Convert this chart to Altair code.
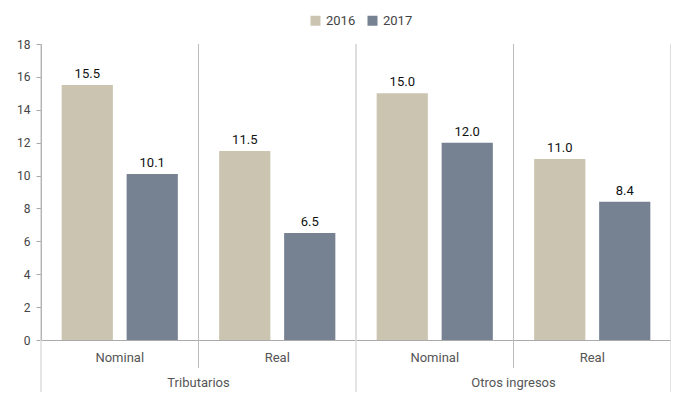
import altair as alt
import pandas as pd

grupos = ["Tributarios", "Tributarios", "Otros ingresos", "Otros ingresos"]
tipos = ["Nominal", "Real", "Nominal", "Real"]
anios = ["2016", "2017"]
v2016 = [15.5, 11.5, 15.0, 11.0]
v2017 = [10.1, 6.5, 12.0, 8.4]
y_ticks = [0, 2, 4, 6, 8, 10, 12, 14, 16, 18]

colores = ["#CBC4B0", "#768292"]
FONT = "Roboto"
W, H = 630, 296

cats = [f"{g}|{t}" for g, t in zip(grupos, tipos)]
rows = []
for c, g, t, a, b in zip(cats, grupos, tipos, v2016, v2017):
    rows.append({"cat": c, "grupo": g, "tipo": t, "anio": "2016", "valor": a, "lbl": f"{a:.1f}"})
    rows.append({"cat": c, "grupo": g, "tipo": t, "anio": "2017", "valor": b, "lbl": f"{b:.1f}"})
df = pd.DataFrame(rows)
df_cats = pd.DataFrame({"cat": cats, "tipo": tipos, "grupo": grupos})

xscale = alt.Scale(domain=cats, paddingInner=0, paddingOuter=0)
xs = alt.X("cat:N", scale=xscale, sort=cats,
           axis=alt.Axis(labels=False, ticks=False, title=None, domain=True,
                         domainColor="#aaaaaa", domainWidth=1))
yscale = alt.Scale(domain=[0, 18])
yaxis = alt.Axis(values=y_ticks, title=None, grid=False, labelOverlap=False,
                 domainColor="#aaaaaa", tickColor="#aaaaaa", tickSize=5,
                 labelFont=FONT, labelFontSize=12, labelColor="#444444",
                 labelPadding=6)
offs = alt.XOffset("anio:N", scale=alt.Scale(paddingInner=0.212, paddingOuter=0.318))

bars = alt.Chart(df).mark_bar().encode(
    x=xs,
    xOffset=offs,
    y=alt.Y("valor:Q", scale=yscale, axis=yaxis),
    color=alt.Color("anio:N", scale=alt.Scale(domain=anios, range=colores),
                    legend=alt.Legend(title=None, orient="none", legendX=268, legendY=-30,
                                      direction="horizontal", symbolType="square",
                                      symbolSize=100, symbolStrokeWidth=0,
                                      labelFont=FONT, labelFontSize=13,
                                      labelColor="#444444", columnPadding=10)),
)

vals = alt.Chart(df).mark_text(font=FONT, fontSize=13, color="#111111", dy=-11).encode(
    x=xs,
    xOffset=offs,
    y=alt.Y("valor:Q", scale=yscale, axis=yaxis),
    text="lbl:N",
)

upper_start = alt.Chart(df_cats).mark_rule(color="#bbbbbb", strokeWidth=1).encode(
    x=alt.X("cat:N", scale=xscale, sort=cats, bandPosition=0),
    y=alt.value(0), y2=alt.value(H),
)
last = df_cats.tail(1)
upper_end = alt.Chart(last).mark_rule(color="#bbbbbb", strokeWidth=1).encode(
    x=alt.X("cat:N", scale=xscale, sort=cats, bandPosition=1),
    y=alt.value(0), y2=alt.value(H),
)
sub_df = df_cats[df_cats["tipo"] == "Real"]
sub_lines = alt.Chart(sub_df).mark_rule(color="#bbbbbb", strokeWidth=1).encode(
    x=alt.X("cat:N", scale=xscale, sort=cats, bandPosition=0),
    y=alt.value(H), y2=alt.value(H + 28),
)
grp_df = df_cats[df_cats["tipo"] == "Nominal"]
grp_lines = alt.Chart(grp_df).mark_rule(color="#dddddd", strokeWidth=1.5).encode(
    x=alt.X("cat:N", scale=xscale, sort=cats, bandPosition=0),
    y=alt.value(H), y2=alt.value(H + 52),
)
grp_end = alt.Chart(last).mark_rule(color="#dddddd", strokeWidth=1.5).encode(
    x=alt.X("cat:N", scale=xscale, sort=cats, bandPosition=1),
    y=alt.value(H), y2=alt.value(H + 52),
)

tipo_lbl = alt.Chart(df_cats).mark_text(font=FONT, fontSize=13, color="#555555",
                                        baseline="middle").encode(
    x=alt.X("cat:N", scale=xscale, sort=cats),
    y=alt.value(H + 18),
    text="tipo:N",
)
grupo_lbl = alt.Chart(sub_df).mark_text(font=FONT, fontSize=13, color="#555555",
                                        baseline="middle").encode(
    x=alt.X("cat:N", scale=xscale, sort=cats, bandPosition=0),
    y=alt.value(H + 43),
    text="grupo:N",
)

chart = alt.layer(
    upper_start, upper_end, sub_lines, grp_lines, grp_end,
    bars, vals, tipo_lbl, grupo_lbl
).properties(
    width=W, height=H,
    autosize=alt.AutoSizeParams(type="none"),
    padding={"left": 33, "top": 36, "right": 0, "bottom": 52},
).configure_view(stroke=None)

chart.save("out.html", embed_options={"renderer": "svg", "actions": False})
